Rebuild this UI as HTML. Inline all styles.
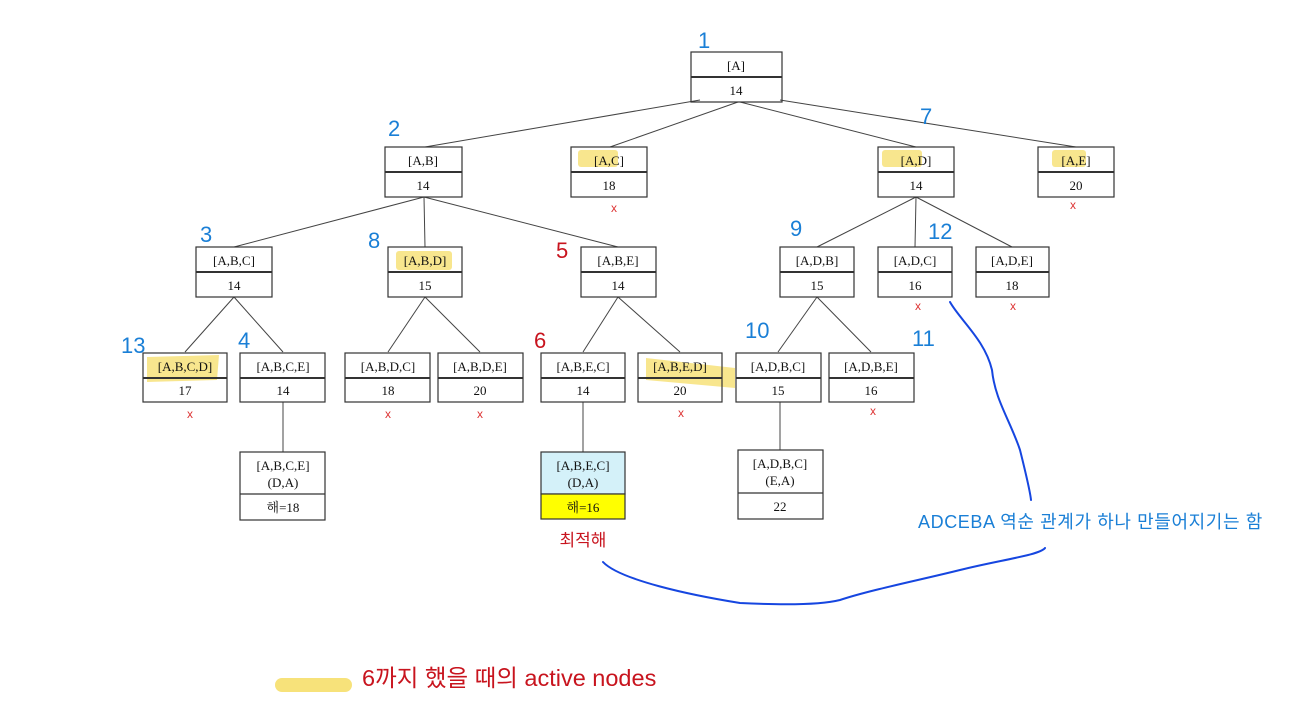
<!DOCTYPE html>
<html><head><meta charset="utf-8"><style>
body{margin:0;background:#fff;}
svg{display:block;}
.t{font-family:"Liberation Serif","Noto Serif CJK SC",serif;font-size:13px;fill:#111;text-anchor:middle;}
.n{font-family:"Liberation Sans",sans-serif;font-size:22px;fill:#1a7fd6;}
.r{font-family:"Liberation Sans",sans-serif;font-size:22px;fill:#c8141e;}
.x{font-family:"Liberation Sans",sans-serif;font-size:12px;fill:#d33;text-anchor:middle;}
</style></head><body>
<svg width="1312" height="714" xmlns="http://www.w3.org/2000/svg">
<g stroke="#444" stroke-width="1" fill="none">
<line x1="700" y1="100" x2="425" y2="147"/>
<line x1="738" y1="102" x2="610" y2="147"/>
<line x1="740" y1="102" x2="916" y2="147"/>
<line x1="780" y1="100" x2="1076" y2="147"/>
<line x1="424" y1="197" x2="234" y2="247"/>
<line x1="424" y1="197" x2="425" y2="247"/>
<line x1="424" y1="197" x2="618" y2="247"/>
<line x1="916" y1="197" x2="817" y2="247"/>
<line x1="916" y1="197" x2="915" y2="247"/>
<line x1="916" y1="197" x2="1012" y2="247"/>
<line x1="234" y1="297" x2="185" y2="352"/>
<line x1="234" y1="297" x2="283" y2="352"/>
<line x1="425" y1="297" x2="388" y2="352"/>
<line x1="425" y1="297" x2="480" y2="352"/>
<line x1="618" y1="297" x2="583" y2="352"/>
<line x1="618" y1="297" x2="680" y2="352"/>
<line x1="817" y1="297" x2="778" y2="352"/>
<line x1="817" y1="297" x2="871" y2="352"/>
<line x1="283" y1="402" x2="283" y2="452"/>
<line x1="583" y1="402" x2="583" y2="452"/>
<line x1="780" y1="402" x2="780" y2="450"/>
</g>
<g fill="#f7e27a" opacity="0.85">
<rect x="578" y="150" width="40" height="17" rx="3"/>
<rect x="882" y="150" width="40" height="17" rx="3"/>
<rect x="1052" y="150" width="34" height="17" rx="3"/>
<rect x="396" y="251" width="56" height="19" rx="3"/>
<polygon points="147,357 219,355 217,380 147,382"/>
<polygon points="646,358 735,368 735,388 646,380"/>
</g>
<g stroke="#333" stroke-width="1.2" fill="none">
<rect x="691" y="52" width="91" height="50"/><line x1="691" y1="77" x2="782" y2="77" stroke-width="2"/>
<rect x="385" y="147" width="77" height="50"/><line x1="385" y1="172" x2="462" y2="172" stroke-width="2"/>
<rect x="571" y="147" width="76" height="50"/><line x1="571" y1="172" x2="647" y2="172" stroke-width="2"/>
<rect x="878" y="147" width="76" height="50"/><line x1="878" y1="172" x2="954" y2="172" stroke-width="2"/>
<rect x="1038" y="147" width="76" height="50"/><line x1="1038" y1="172" x2="1114" y2="172" stroke-width="2"/>
<rect x="196" y="247" width="76" height="50"/><line x1="196" y1="272" x2="272" y2="272" stroke-width="2"/>
<rect x="388" y="247" width="74" height="50"/><line x1="388" y1="272" x2="462" y2="272" stroke-width="2"/>
<rect x="581" y="247" width="75" height="50"/><line x1="581" y1="272" x2="656" y2="272" stroke-width="2"/>
<rect x="780" y="247" width="74" height="50"/><line x1="780" y1="272" x2="854" y2="272" stroke-width="2"/>
<rect x="878" y="247" width="74" height="50"/><line x1="878" y1="272" x2="952" y2="272" stroke-width="2"/>
<rect x="976" y="247" width="73" height="50"/><line x1="976" y1="272" x2="1049" y2="272" stroke-width="2"/>
<rect x="143" y="353" width="84" height="49"/><line x1="143" y1="378" x2="227" y2="378" stroke-width="2"/>
<rect x="240" y="353" width="85" height="49"/><line x1="240" y1="378" x2="325" y2="378" stroke-width="2"/>
<rect x="345" y="353" width="85" height="49"/><line x1="345" y1="378" x2="430" y2="378" stroke-width="2"/>
<rect x="438" y="353" width="85" height="49"/><line x1="438" y1="378" x2="523" y2="378" stroke-width="2"/>
<rect x="541" y="353" width="84" height="49"/><line x1="541" y1="378" x2="625" y2="378" stroke-width="2"/>
<rect x="638" y="353" width="84" height="49"/><line x1="638" y1="378" x2="722" y2="378" stroke-width="2"/>
<rect x="736" y="353" width="85" height="49"/><line x1="736" y1="378" x2="821" y2="378" stroke-width="2"/>
<rect x="829" y="353" width="85" height="49"/><line x1="829" y1="378" x2="914" y2="378" stroke-width="2"/>
<rect x="240" y="452" width="85" height="68"/><line x1="240" y1="494" x2="325" y2="494"/>
<rect x="541" y="452" width="84" height="42" fill="#d4f1f9"/>
<rect x="541" y="494" width="84" height="25" fill="#ffff00"/>
<rect x="738" y="450" width="85" height="69"/><line x1="738" y1="493" x2="823" y2="493"/>
</g>
<g class="t">
<text x="736" y="70">[A]</text><text x="736" y="95">14</text>
<text x="423" y="165">[A,B]</text><text x="423" y="190">14</text>
<text x="609" y="165">[A,C]</text><text x="609" y="190">18</text>
<text x="916" y="165">[A,D]</text><text x="916" y="190">14</text>
<text x="1076" y="165">[A,E]</text><text x="1076" y="190">20</text>
<text x="234" y="265">[A,B,C]</text><text x="234" y="290">14</text>
<text x="425" y="265">[A,B,D]</text><text x="425" y="290">15</text>
<text x="618" y="265">[A,B,E]</text><text x="618" y="290">14</text>
<text x="817" y="265">[A,D,B]</text><text x="817" y="290">15</text>
<text x="915" y="265">[A,D,C]</text><text x="915" y="290">16</text>
<text x="1012" y="265">[A,D,E]</text><text x="1012" y="290">18</text>
<text x="185" y="371">[A,B,C,D]</text><text x="185" y="395">17</text>
<text x="283" y="371">[A,B,C,E]</text><text x="283" y="395">14</text>
<text x="388" y="371">[A,B,D,C]</text><text x="388" y="395">18</text>
<text x="480" y="371">[A,B,D,E]</text><text x="480" y="395">20</text>
<text x="583" y="371">[A,B,E,C]</text><text x="583" y="395">14</text>
<text x="680" y="371">[A,B,E,D]</text><text x="680" y="395">20</text>
<text x="778" y="371">[A,D,B,C]</text><text x="778" y="395">15</text>
<text x="871" y="371">[A,D,B,E]</text><text x="871" y="395">16</text>
<text x="283" y="470">[A,B,C,E]</text><text x="283" y="487">(D,A)</text><text x="283" y="512">해=18</text>
<text x="583" y="470">[A,B,E,C]</text><text x="583" y="487">(D,A)</text><text x="583" y="512">해=16</text>
<text x="780" y="468">[A,D,B,C]</text><text x="780" y="485">(E,A)</text><text x="780" y="511">22</text>
</g>
<g class="x">
<text x="614" y="212">x</text><text x="1073" y="209">x</text>
<text x="190" y="418">x</text><text x="388" y="418">x</text><text x="480" y="418">x</text>
<text x="681" y="417">x</text><text x="873" y="415">x</text>
<text x="918" y="310">x</text><text x="1013" y="310">x</text>
</g>
<g class="n">
<text x="698" y="48">1</text><text x="388" y="136">2</text><text x="920" y="124">7</text>
<text x="200" y="242">3</text><text x="368" y="248">8</text>
<text x="790" y="236">9</text><text x="928" y="239">12</text>
<text x="121" y="353">13</text><text x="238" y="348">4</text>
<text x="745" y="338">10</text><text x="912" y="346">11</text>
</g>
<text class="r" x="556" y="258">5</text>
<text class="r" x="534" y="348">6</text>
<text x="583" y="546" style="font-family:'Noto Sans CJK KR',sans-serif;font-size:17px;fill:#c8141e;text-anchor:middle">최적해</text>
<text x="918" y="528" style="font-family:'Liberation Sans','Noto Sans CJK KR',sans-serif;font-size:18px;letter-spacing:0.6px;fill:#1a7fd6">ADCEBA 역순 관계가 하나 만들어지기는 함</text>
<g stroke="#1646e0" stroke-width="2" fill="none" stroke-linecap="round">
<path d="M950,302 C960,320 985,340 992,370 C995,400 1010,420 1020,450 C1025,470 1030,490 1031,500"/>
<path d="M603,562 C620,580 690,595 740,603 C780,605 820,605 840,600 C870,590 920,580 960,570 C1000,560 1040,555 1045,548"/>
</g>
<line x1="282" y1="685" x2="345" y2="685" stroke="#f7e27a" stroke-width="14" stroke-linecap="round"/>
<text x="362" y="686" style="font-family:'Liberation Sans','Noto Sans CJK KR',sans-serif;font-size:23.5px;fill:#c8141e">6까지 했을 때의 active nodes</text>
</svg>
</body></html>
